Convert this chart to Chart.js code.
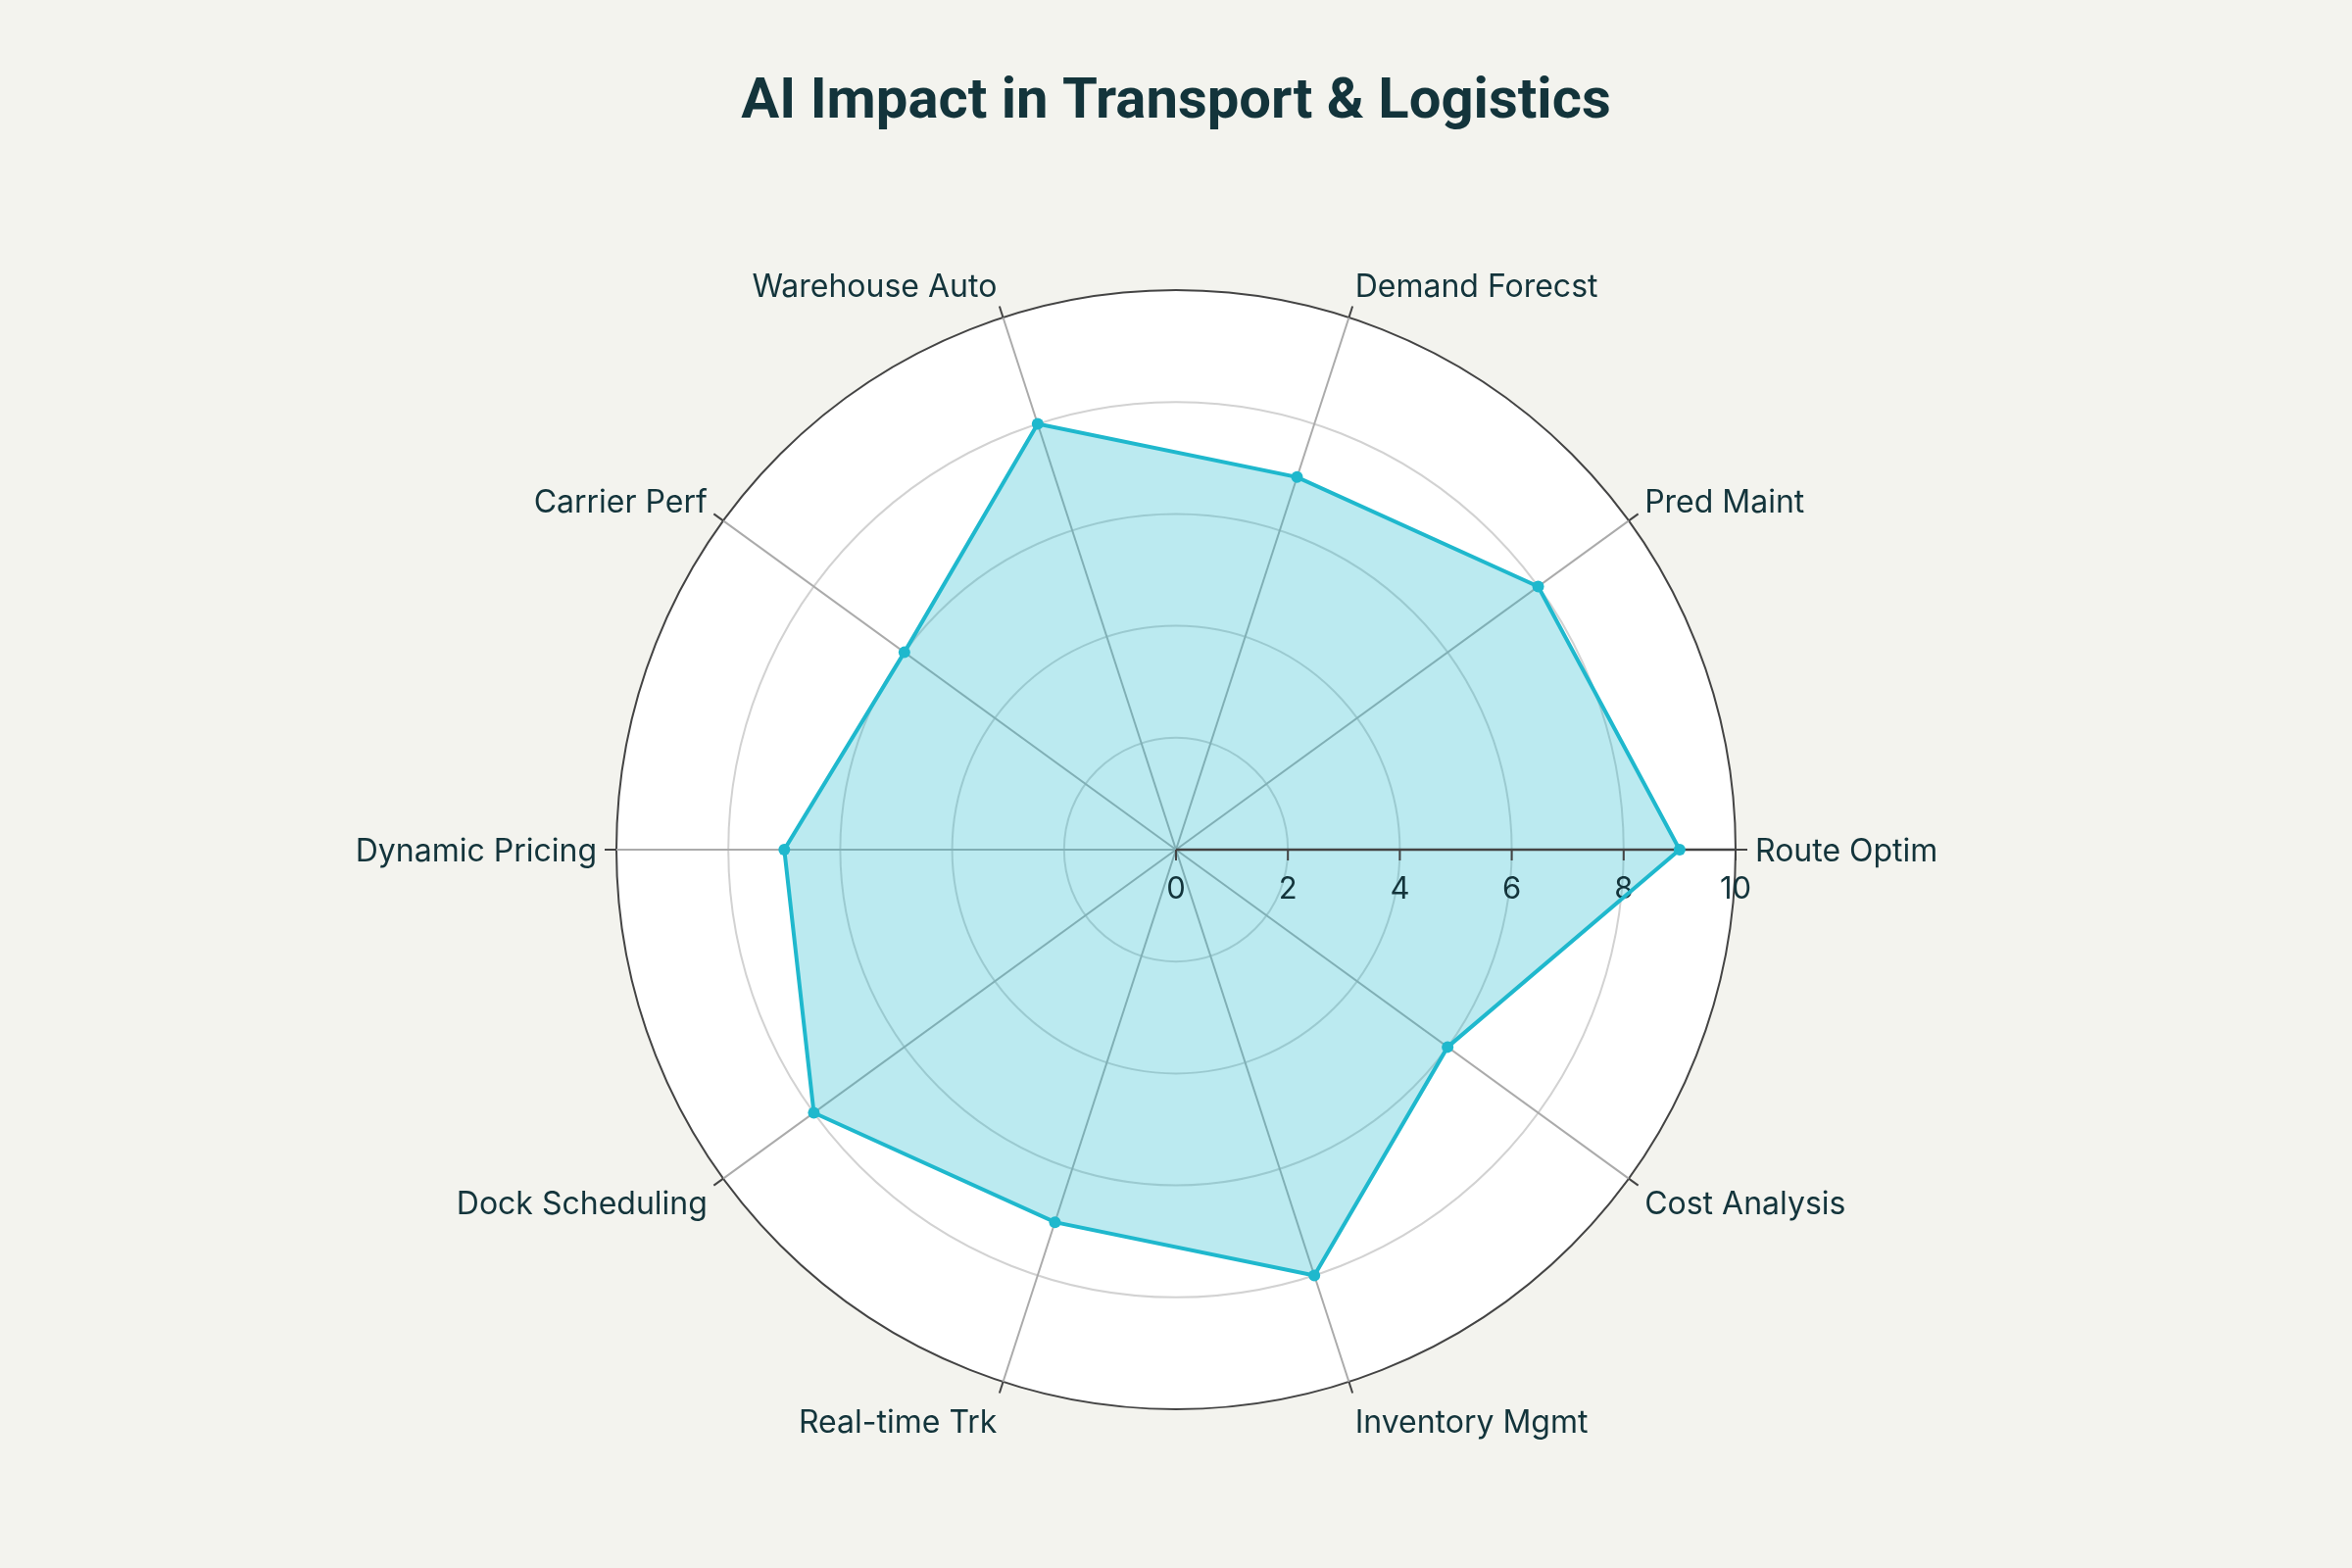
<!DOCTYPE html>
<html>
<head>
<meta charset="utf-8">
<script src="https://cdn.jsdelivr.net/npm/chart.js@4.4.1/dist/chart.umd.min.js"></script>
<style>
  html, body { margin: 0; padding: 0; background: #f3f3ee; }
  canvas { display: block; }
</style>
</head>
<body>
<canvas id="c" width="2400" height="1600"></canvas>
<script>
// ---- data (original counter-clockwise order, starting at east) ----
const categories = ['Route Optim', 'Pred Maint', 'Demand Forecst', 'Warehouse Auto', 'Carrier Perf',
                    'Dynamic Pricing', 'Dock Scheduling', 'Real-time Trk', 'Inventory Mgmt', 'Cost Analysis'];
const scores = [9, 8, 7, 8, 6, 7, 8, 7, 8, 6];
const radialTicks = [0, 2, 4, 6, 8, 10];
const chartTitle = 'AI Impact in Transport & Logistics';

// Chart.js walks clockwise; keep first item at east and reverse the rest
const order = [0].concat(categories.map((_, i) => i).slice(1).reverse());
const labels = order.map(i => categories[i]);
const values = order.map(i => scores[i]);

const TEXT = '#13343b';
const AXIS = '#444444';
const LINE = '#1FB8CD';
const FILL = 'rgba(31,184,205,0.3)';
const PAPER = '#f3f3ee';
const LABEL_SIZE = 32;
const LABEL_FONT = '400 ' + LABEL_SIZE + 'px Inter, "Liberation Sans", sans-serif';
const TICK_FONT = '400 31px Inter, "Liberation Sans", sans-serif';
const TITLE_FONT = '700 58px Roboto, "Liberation Sans", sans-serif';

function drawRadialAxis(chart) {
  const s = chart.scales.r, ctx = chart.ctx;
  const cx = s.xCenter, cy = s.yCenter;
  ctx.save();
  ctx.strokeStyle = AXIS;
  ctx.lineWidth = 2.5;
  ctx.beginPath();
  ctx.moveTo(cx, cy);
  ctx.lineTo(cx + s.getDistanceFromCenterForValue(s.max), cy);
  ctx.stroke();
  ctx.lineWidth = 2;
  ctx.font = TICK_FONT;
  ctx.fillStyle = TEXT;
  ctx.textAlign = 'center';
  ctx.textBaseline = 'alphabetic';
  radialTicks.forEach(v => {
    const x = cx + s.getDistanceFromCenterForValue(v);
    ctx.beginPath();
    ctx.moveTo(x, cy);
    ctx.lineTo(x, cy + 11);
    ctx.stroke();
    ctx.fillText(String(v), x, cy + 50);
  });
  ctx.restore();
}

const polarPlugin = {
  id: 'polarDecor',
  beforeDraw(chart) {
    const s = chart.scales.r, ctx = chart.ctx;
    ctx.save();
    ctx.fillStyle = PAPER;
    ctx.fillRect(0, 0, chart.width, chart.height);
    ctx.fillStyle = '#ffffff';
    ctx.beginPath();
    ctx.arc(s.xCenter, s.yCenter, s.drawingArea, 0, Math.PI * 2);
    ctx.fill();
    ctx.restore();
  },
  afterDatasetDraw(chart, args) {
    if (args.index === 1) drawRadialAxis(chart);
  },
  afterDraw(chart) {
    const s = chart.scales.r, ctx = chart.ctx;
    const r = s.drawingArea;
    ctx.save();
    // angular ticks + labels
    ctx.strokeStyle = AXIS;
    ctx.lineWidth = 2;
    ctx.font = LABEL_FONT;
    ctx.fillStyle = TEXT;
    ctx.textBaseline = 'alphabetic';
    labels.forEach((lab, i) => {
      const p0 = s.getPointPosition(i, r);
      const p1 = s.getPointPosition(i, r + 12);
      ctx.beginPath();
      ctx.moveTo(p0.x, p0.y);
      ctx.lineTo(p1.x, p1.y);
      ctx.stroke();
      const a = s.getIndexAngle(i) - Math.PI / 2;
      const cos = Math.cos(a), sinUp = -Math.sin(a);
      const x = p1.x + 8 * cos;
      const align = Math.abs(cos) < 0.1 ? 'center' : (cos > 0 ? 'left' : 'right');
      const k = sinUp > 0 ? 22 : 31;
      const mid = p1.y - sinUp * k;
      ctx.textAlign = align;
      ctx.fillText(lab, x, mid + 0.36 * LABEL_SIZE);
    });
    // title
    ctx.font = TITLE_FONT;
    ctx.textAlign = 'center';
    ctx.fillText(chartTitle, chart.width / 2, 120);
    ctx.restore();
  }
};

new Chart(document.getElementById('c'), {
  type: 'radar',
  data: {
    labels: labels,
    datasets: [
      {
        data: values,
        fill: false,
        borderColor: LINE,
        borderWidth: 4,
        pointRadius: 6,
        pointBackgroundColor: LINE,
        pointBorderWidth: 0,
        tension: 0
      },
      {
        data: values,
        fill: true,
        backgroundColor: FILL,
        borderWidth: 0,
        borderColor: 'rgba(0,0,0,0)',
        pointRadius: 0
      }
    ]
  },
  options: {
    responsive: false,
    devicePixelRatio: 1,
    animation: false,
    layout: { padding: { left: 600, right: 600, top: 296, bottom: 162 } },
    plugins: { legend: { display: false }, title: { display: false }, tooltip: { enabled: false } },
    scales: {
      r: {
        min: 0,
        max: 10,
        startAngle: 90,
        afterBuildTicks: sc => { sc.ticks = radialTicks.map(v => ({ value: v })); },
        ticks: { display: false, stepSize: 2 },
        pointLabels: { display: false },
        grid: {
          circular: true,
          lineWidth: 2,
          color: c => (c.tick && c.tick.value === 10) ? AXIS : '#d2d2d2'
        },
        angleLines: { color: '#ababab', lineWidth: 2 }
      }
    }
  },
  plugins: [polarPlugin]
});
</script>
</body>
</html>
